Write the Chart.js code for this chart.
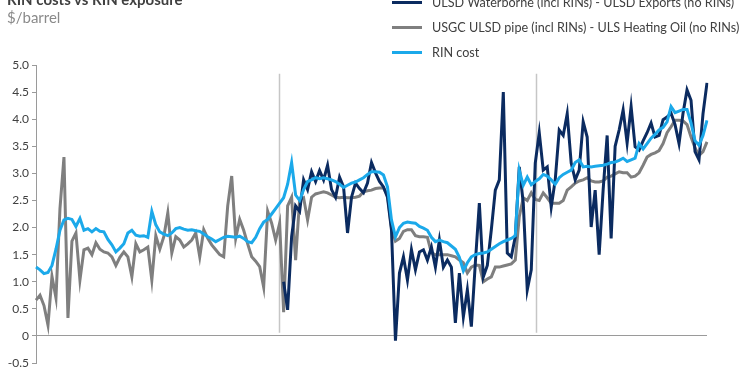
<!DOCTYPE html>
<html>
<head>
<meta charset="utf-8">
<script src="https://cdn.jsdelivr.net/npm/chart.js@4"></script>
<style>
  body { margin: 0; background: #fff; }
  #wrap { position: relative; width: 750px; height: 375px; overflow: hidden; font-family: Lato, "Open Sans", sans-serif; }
  #title { position: absolute; left: 7px; top: -10px; font-size: 15px; font-weight: bold; color: #404040; }
  #subtitle { position: absolute; left: 7px; top: 8px; font-size: 15px; color: #8a8a8a; }
  #legend { position: absolute; left: 392px; top: -10px; }
  .item { position: relative; height: 25px; line-height: 25px; font-size: 12.6px; color: #404040; white-space: nowrap; }
  .swatch { position: absolute; left: 0; top: 11px; width: 30px; height: 3px; }
  .item span { position: absolute; left: 40px; }
  canvas { position: absolute; left: 0; top: 0; }
</style>
</head>
<body>
<div id="wrap">
  <canvas id="chart" width="750" height="375"></canvas>
  <div id="title">RIN costs vs RIN exposure</div>
  <div id="subtitle">$/barrel</div>
  <div id="legend"></div>
</div>
<script>
// ---- series names / colours ----
const seriesNames = [
  "ULSD Waterborne (incl RINs) - ULSD Exports (no RINs)",
  "USGC ULSD pipe (incl RINs) - ULS Heating Oil (no RINs)",
  "RIN cost"
];
const seriesColors = ["#0b2b60", "#7f7f7f", "#1ba9ea"];

// ---- y axis ticks ----
const yTicks = [-0.5, 0, 0.5, 1.0, 1.5, 2.0, 2.5, 3.0, 3.5, 4.0, 4.5, 5.0];

// ---- values (one point ~ every 4px) ----
const waterborne = [
  null, null, null, null, null, null, null, null, null, null,
  null, null, null, null, null, null, null, null, null, null,
  null, null, null, null, null, null, null, null, null, null,
  null, null, null, null, null, null, null, null, null, null,
  null, null, null, null, null, null, null, null, null, null,
  null, null, null, null, null, null, null, null, null, null,
  null, null, 1.00, 0.48, 1.83, 2.40, 2.30, 2.88, 2.70, 3.03,
  2.85, 3.05, 2.88, 3.15, 2.70, 2.56, 2.93, 2.75, 1.90, 2.56,
  2.82, 2.72, 2.64, 2.82, 3.20, 3.01, 2.85, 2.75, 2.56, 1.96,
  -0.09, 1.16, 1.46, 1.03, 1.59, 1.22, 1.55, 1.59, 1.40, 1.64,
  1.27, 1.77, 1.27, 1.40, 1.27, 0.24, 1.16, 0.35, 0.85, 0.17,
  1.35, 2.45, 1.09, 1.30, 1.96, 2.69, 2.88, 4.50, 1.53, 1.46,
  1.83, 3.12, 2.45, 0.85, 1.22, 3.19, 3.75, 3.06, 3.12, 2.38,
  2.88, 3.80, 3.70, 4.10, 3.19, 2.88, 3.06, 3.95, 3.67, 2.01,
  2.69, 1.50, 2.70, 3.70, 1.80, 3.50, 3.80, 4.17, 3.56, 4.23,
  3.49, 3.43, 3.60, 3.75, 3.93, 3.67, 3.70, 3.99, 4.04, 4.11,
  3.90, 3.55, 4.11, 4.54, 4.35, 3.40, 3.25, 4.10, 4.67
];

const usgcPipe = [
  0.66, 0.75, 0.56, 0.20, 1.10, 0.70, 2.35, 3.30, 0.33, 1.75,
  1.90, 1.03, 1.59, 1.62, 1.50, 1.72, 1.60, 1.55, 1.53, 1.46,
  1.30, 1.45, 1.55, 1.46, 1.09, 1.70, 1.55, 1.59, 1.64, 1.03,
  1.85, 1.60, 1.83, 2.27, 1.53, 1.83, 1.77, 1.64, 1.70, 1.77,
  1.90, 1.46, 1.96, 1.80, 1.68, 1.59, 1.50, 1.46, 2.40, 2.95,
  1.80, 2.15, 1.95, 1.70, 1.46, 1.38, 1.28, 0.90, 2.30, 2.08,
  1.77, 2.08, 0.44, 2.40, 2.56, 1.40, 2.51, 2.55, 2.14, 2.56,
  2.62, 2.64, 2.66, 2.64, 2.60, 2.56, 2.55, 2.56, 2.55, 2.55,
  2.56, 2.58, 2.66, 2.68, 2.69, 2.72, 2.73, 2.73, 2.60, 2.00,
  1.75, 1.80, 1.93, 1.96, 1.96, 1.85, 1.83, 1.83, 1.82, 1.53,
  1.50, 1.50, 1.50, 1.50, 1.48, 1.46, 1.40, 1.35, 1.16, 1.27,
  1.31, 1.30, 1.00, 1.05, 1.09, 1.27, 1.27, 1.29, 1.31, 1.33,
  1.40, 2.20, 2.55, 2.50, 2.64, 2.52, 2.50, 2.64, 2.55, 2.45,
  2.45, 2.45, 2.50, 2.69, 2.75, 2.82, 2.86, 2.88, 2.92, 2.86,
  2.84, 2.84, 2.86, 2.93, 2.95, 2.99, 3.03, 3.01, 3.01, 2.93,
  2.95, 3.01, 3.15, 3.30, 3.35, 3.38, 3.42, 3.55, 3.75, 3.86,
  3.98, 3.98, 3.97, 3.90, 3.67, 3.47, 3.33, 3.40, 3.58
];

const rinCost = [
  1.27, 1.22, 1.15, 1.17, 1.30, 1.60, 1.95, 2.14, 2.17, 2.15,
  2.02, 2.17, 1.95, 1.98, 1.92, 1.98, 1.93, 1.92, 1.78, 1.68,
  1.55, 1.62, 1.70, 1.90, 1.95, 1.86, 1.84, 1.85, 1.82, 2.30,
  2.05, 1.92, 1.88, 1.85, 1.90, 1.98, 2.00, 1.97, 1.95, 1.96,
  1.94, 1.93, 1.88, 1.83, 1.79, 1.74, 1.78, 1.82, 1.84, 1.83,
  1.82, 1.84, 1.80, 1.74, 1.72, 1.82, 1.98, 2.10, 2.15, 2.25,
  2.35, 2.45, 2.55, 2.80, 3.20, 2.60, 2.50, 2.70, 2.85, 2.88,
  2.92, 2.90, 2.92, 2.90, 2.88, 2.85, 2.80, 2.74, 2.78, 2.82,
  2.84, 2.88, 2.92, 2.98, 3.03, 3.03, 3.02, 2.97, 2.75, 2.14,
  1.83, 2.00, 2.08, 2.10, 2.09, 2.08, 2.02, 1.99, 1.95, 1.82,
  1.74, 1.77, 1.74, 1.72, 1.66, 1.60, 1.45, 1.20, 1.35, 1.46,
  1.50, 1.52, 1.53, 1.55, 1.60, 1.65, 1.70, 1.74, 1.77, 1.80,
  1.85, 3.06, 2.78, 2.93, 2.79, 2.85, 2.90, 2.98, 2.95, 2.88,
  2.80, 2.92, 2.98, 3.02, 3.06, 3.20, 3.25, 3.12, 3.13, 3.12,
  3.13, 3.14, 3.15, 3.17, 3.20, 3.21, 3.24, 3.28, 3.22, 3.25,
  3.28, 3.55, 3.45, 3.55, 3.65, 3.72, 3.80, 3.85, 3.95, 4.23,
  4.12, 4.15, 4.18, 4.18, 3.93, 3.60, 3.52, 3.70, 3.98
];

// x categories: one per observation
const periods = rinCost.map((_, i) => "P" + i);

// grey vertical separators, in category units
const dividers = [60.8, 125.3];

// ---- html legend ----
const legendEl = document.getElementById("legend");
seriesNames.forEach((name, i) => {
  const row = document.createElement("div");
  row.className = "item";
  row.innerHTML = `<div class="swatch" style="background:${seriesColors[i]}"></div><span>${name}</span>`;
  legendEl.appendChild(row);
});

// --- plugin garis vertikal ---
const dividerPlugin = {
  id: "dividers",
  beforeDatasetsDraw(chart) {
    const { ctx, scales: { x, y } } = chart;
    ctx.save();
    ctx.strokeStyle = "#c6c6c6";
    ctx.lineWidth = 1.5;
    dividers.forEach((d) => {
      const px = Math.round(x.getPixelForValue(d)) + 0.5;
      ctx.beginPath();
      ctx.moveTo(px, y.getPixelForValue(4.84));
      ctx.lineTo(px, y.getPixelForValue(0.06));
      ctx.stroke();
    });
    ctx.restore();
  }
};

const seriesData = [waterborne, usgcPipe, rinCost];
const orders = [1, 2, 0];
const widths = [3, 3, 3];

new Chart(document.getElementById("chart"), {
  type: "line",
  data: {
    labels: periods,
    datasets: seriesData.map((d, i) => ({
      label: seriesNames[i],
      data: d,
      borderColor: seriesColors[i],
      backgroundColor: seriesColors[i],
      borderWidth: widths[i],
      pointRadius: 0,
      tension: 0,
      spanGaps: false,
      order: orders[i]
    }))
  },
  options: {
    responsive: false,
    animation: false,
    layout: { padding: { left: 0, right: 43, top: 65, bottom: 12 } },
    plugins: {
      legend: { display: false },
      tooltip: { enabled: false }
    },
    scales: {
      x: {
        display: false,
        offset: false
      },
      y: {
        min: -0.5,
        max: 5.0,
        afterFit: (scale) => { scale.width = 36; },
        afterBuildTicks: (scale) => {
          scale.ticks = yTicks.map((v) => ({ value: v }));
        },
        border: { display: true, color: "#9a9a9a", width: 1 },
        grid: {
          drawOnChartArea: true,
          tickLength: 4,
          tickColor: "#9a9a9a",
          color: (c) => (c.tick && c.tick.value === 0 ? "#9a9a9a" : "rgba(0,0,0,0)"),
          lineWidth: 1
        },
        ticks: {
          padding: 3,
          color: "#404040",
          font: { family: "Lato, 'Open Sans', sans-serif", size: 12 },
          callback: (v) => (v === 0 ? "0" : Number(v).toFixed(1))
        }
      }
    }
  },
  plugins: [dividerPlugin]
});
</script>
</body>
</html>
